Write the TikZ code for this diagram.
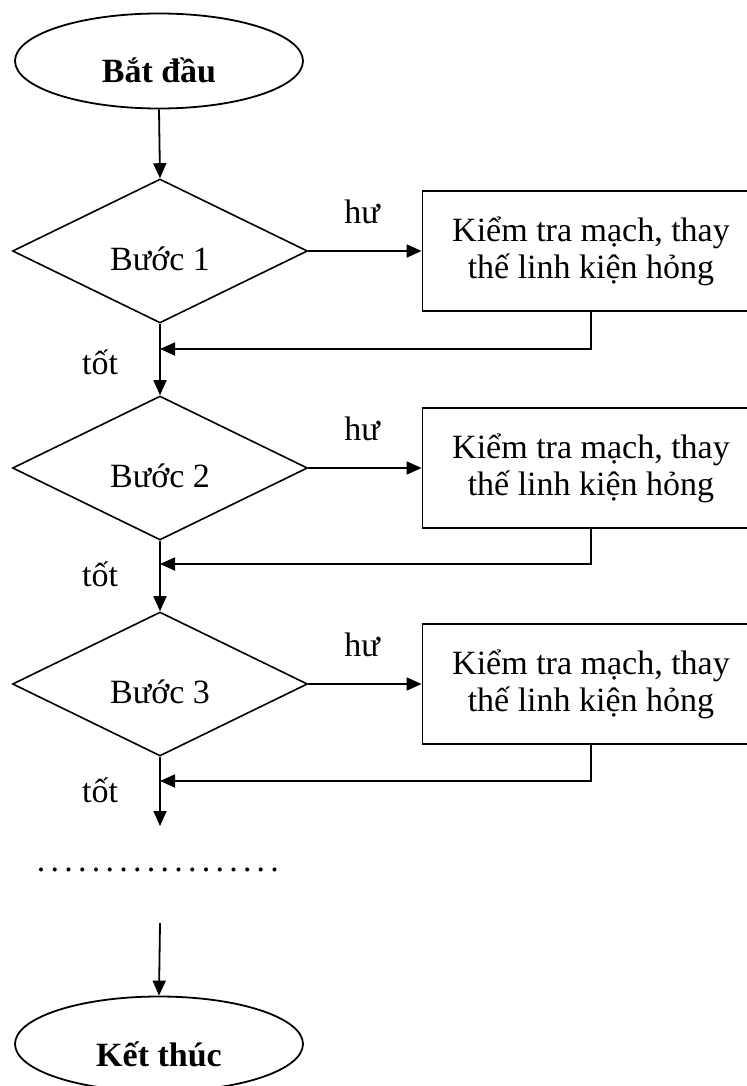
\documentclass[tikz,border=0pt]{standalone}
\usepackage{fontspec}
\setmainfont{Liberation Serif}
\usetikzlibrary{shapes.geometric, arrows.meta, positioning}
\tikzset{
  % Box styles
  termbox/.style={ellipse, draw, line width=0.9pt, minimum width=144pt, minimum height=47.5pt, inner sep=0pt, text height=22pt, text depth=0pt, font=\fontsize{17}{20}\selectfont\bfseries},
  stepbox/.style={diamond, draw, line width=0.8pt, minimum width=147.5pt, minimum height=72pt, inner sep=0pt, text height=19.2pt, text depth=0pt, font=\fontsize{17}{20}\selectfont},
  fixbox/.style={rectangle, draw, line width=0.9pt, minimum width=168.5pt, minimum height=60pt, inner sep=0pt, align=center, font=\fontsize{17}{18.5}\selectfont},
  labelnode/.style={inner sep=0pt, font=\fontsize{17}{20}\selectfont},
  % Arrow styles
  arrow/.style={-{Triangle[length=7.5pt,width=6.5pt]}, line width=0.9pt}
}

\begin{document}
\begin{tikzpicture}[x=0.5pt, y=-0.5pt]
  \useasboundingbox (0,0) rectangle (747,1086);
  \clip (0,0) rectangle (747,1086);

  % Start and end
  \node[termbox] (start) at (159,61) {Bắt đầu};
  \node[termbox] (stop) at (159,1044) {Kết thúc};

  % Steps
  \node[stepbox] (d1) at (160,251) {Bước 1};
  \node[stepbox] (d2) at (160,468) {Bước 2};
  \node[stepbox] (d3) at (160,684) {Bước 3};

  % Repair boxes
  \node[fixbox] (f1) at (591,251) {Kiểm tra mạch, thay\\thế linh kiện hỏng};
  \node[fixbox] (f2) at (591,468) {Kiểm tra mạch, thay\\thế linh kiện hỏng};
  \node[fixbox] (f3) at (591,684) {Kiểm tra mạch, thay\\thế linh kiện hỏng};

  % Labels
  \node[labelnode] (h1) at (362,212) {hư};
  \node[labelnode] (h2) at (362,429) {hư};
  \node[labelnode] (h3) at (362,645) {hư};
  \node[labelnode] (t1) at (100,362) {tốt};
  \node[labelnode] (t2) at (100,574) {tốt};
  \node[labelnode] (t3) at (100,790) {tốt};
  \node[labelnode] (more) at (158,870) {\addfontfeature{LetterSpace=15.4}..................};

  % Joins
  \coordinate (r1) at (160,349);
  \coordinate (r2) at (160,564);
  \coordinate (r3) at (160,781);
  \coordinate (gapin) at (160,826);
  \coordinate (gapout) at (160,923);

  \draw[arrow] (start.south) -- (d1.north);
  \draw[arrow] (d1.east) -- (f1.west);
  \draw[arrow] (d2.east) -- (f2.west);
  \draw[arrow] (d3.east) -- (f3.west);
  \draw[arrow] (f1.south) |- (r1);
  \draw[arrow] (f2.south) |- (r2);
  \draw[arrow] (f3.south) |- (r3);
  \draw[arrow] (d1.south) -- (d2.north);
  \draw[arrow] (d2.south) -- (d3.north);
  \draw[arrow] (d3.south) -- (gapin);
  \draw[arrow] (gapout) -- (stop.north);
\end{tikzpicture}
\end{document}
